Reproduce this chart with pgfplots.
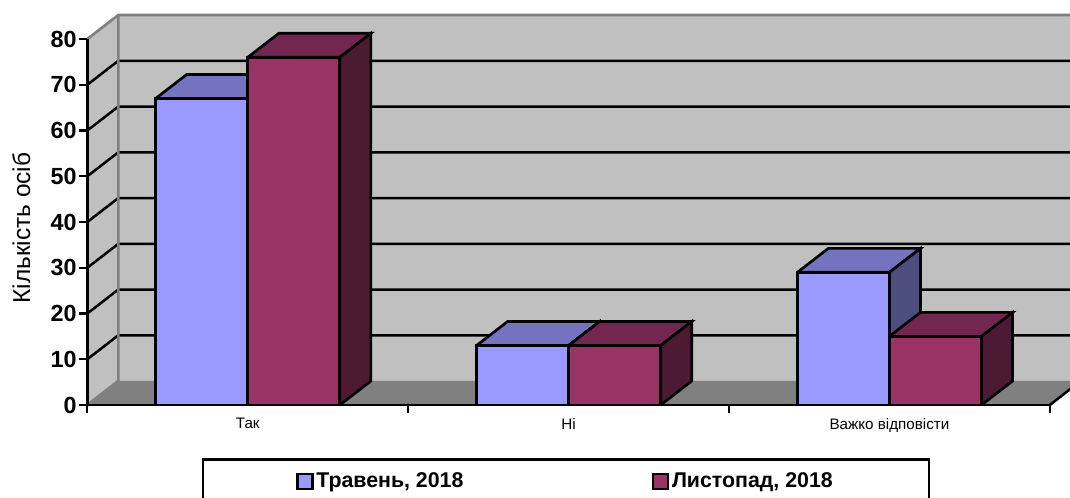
\documentclass[border=0pt]{standalone}
\usepackage{fontspec}
\setmainfont{Liberation Sans}
\usepackage{pgfplots}
\pgfplotsset{compat=1.18}
\definecolor{wall}{HTML}{C0C0C0}
\definecolor{edge}{HTML}{808080}
\definecolor{blueF}{HTML}{9999FF}
\definecolor{blueT}{HTML}{7373BF}
\definecolor{blueS}{HTML}{4D4D80}
\definecolor{redF}{HTML}{993366}
\definecolor{redT}{HTML}{732650}
\definecolor{redS}{HTML}{4D1A33}
% 1 px of the reference = 0.75pt; depth of the 3D box: 0.0967 in x, 5.24 in y
\begin{document}
\begin{tikzpicture}
\path[use as bounding box] (0,0) rectangle (802.5pt,373.5pt);
\begin{axis}[
  at={(65.5pt,69.75pt)}, anchor=south west,
  scale only axis, width=721.9pt, height=274.5pt,
  xmin=0, xmax=3, ymin=0, ymax=80,
  clip=false, axis on top,
  unbounded coords=jump,
  axis x line*=bottom, axis y line*=left,
  axis line style={-, line width=2pt, black},
  tick style={black, line width=1.7pt},
  major tick length=6pt, tick align=outside,
  xtick={0,1,2,3}, xticklabels={},
  extra x ticks={0.5,1.5,2.5},
  extra x tick labels={Так,Ні,Важко відповісти},
  extra x tick style={major tick length=0pt, tick label style={font=\fontsize{11.4}{14}\selectfont, yshift=-6.5pt}},
  ytick={0,10,...,80},
  /pgf/number format/assume math mode=true,
  y tick label style={font=\fontsize{17.5}{20}\selectfont\bfseries, xshift=1.5pt},
  ylabel={Кількість осіб},
  ylabel style={at={(rel axis cs:-0.0686,0.4836)}, anchor=center, font=\fontsize{18.3}{22}\selectfont},
  bar width=69pt,
  legend style={at={(rel axis cs:0.4972,-0.1455)}, anchor=north, draw=black, line width=1.9pt,
    legend columns=2, font=\fontsize{16}{19}\selectfont\bfseries,
    inner xsep=70pt, inner ysep=8pt,
    /tikz/every even column/.append style={column sep=139.5pt}},
]
% walls and floor
\addplot[forget plot, fill=wall, draw=none] coordinates {(0,0) (0.0967,5.3) (0.0967,85.24) (0,80) (0,0)};
\addplot[forget plot, fill=wall, draw=none] coordinates {(0.0967,5.3) (3.0967,5.3) (3.0967,85.24) (0.0967,85.24) (0.0967,5.3)};
\addplot[forget plot, fill=edge, draw=none] coordinates {(0,0) (3,0) (3.0967,5.3) (0.0967,5.3) (0,0)};
% gridlines
\addplot[forget plot, black, line width=1.9pt] coordinates {
  (0,10) (0.0967,15.24) (3.0967,15.24) (0,nan)
  (0,20) (0.0967,25.24) (3.0967,25.24) (0,nan)
  (0,30) (0.0967,35.24) (3.0967,35.24) (0,nan)
  (0,40) (0.0967,45.24) (3.0967,45.24) (0,nan)
  (0,50) (0.0967,55.24) (3.0967,55.24) (0,nan)
  (0,60) (0.0967,65.24) (3.0967,65.24) (0,nan)
  (0,70) (0.0967,75.24) (3.0967,75.24)};
\addplot[forget plot, edge, line width=2pt] coordinates {(0,80) (0.0967,85.24) (3.0967,85.24)};
\addplot[forget plot, edge, line width=2pt] coordinates {(0,0) (0.0967,5.3) (0.0967,85.24)};
\addplot[forget plot, black, line width=1.9pt] coordinates {(3,0) (3.0967,5.3)};
% May: tops and sides, then fronts
\addplot[forget plot, fill=blueT, draw=black, line width=2pt] coordinates {(0.213,67) (0.3097,72.24) (0.5967,72.24) (0.5,67) (0.213,67)};
\addplot[forget plot, fill=blueS, draw=black, line width=2pt] coordinates {(0.5,0) (0.5967,5.24) (0.5967,72.24) (0.5,67) (0.5,0)};
\addplot[forget plot, fill=blueT, draw=black, line width=2pt] coordinates {(1.213,13) (1.3097,18.24) (1.5967,18.24) (1.5,13) (1.213,13)};
\addplot[forget plot, fill=blueS, draw=black, line width=2pt] coordinates {(1.5,0) (1.5967,5.24) (1.5967,18.24) (1.5,13) (1.5,0)};
\addplot[forget plot, fill=blueT, draw=black, line width=2pt] coordinates {(2.213,29) (2.3097,34.24) (2.5967,34.24) (2.5,29) (2.213,29)};
\addplot[forget plot, fill=blueS, draw=black, line width=2pt] coordinates {(2.5,0) (2.5967,5.24) (2.5967,34.24) (2.5,29) (2.5,0)};
\addplot[ybar, bar shift=-34.5pt, fill=blueF, draw=black, line width=2pt,
  legend image code/.code={\draw[fill=blueF, draw=black, line width=1.7pt] (0pt,-5.6pt) rectangle (11.25pt,5.6pt);}]
  coordinates {(0.5,67) (1.5,13) (2.5,29)};
% November: tops and sides, then fronts
\addplot[forget plot, fill=redT, draw=black, line width=2pt] coordinates {(0.5,76) (0.5967,81.24) (0.8837,81.24) (0.787,76) (0.5,76)};
\addplot[forget plot, fill=redS, draw=black, line width=2pt] coordinates {(0.787,0) (0.8837,5.24) (0.8837,81.24) (0.787,76) (0.787,0)};
\addplot[forget plot, fill=redT, draw=black, line width=2pt] coordinates {(1.5,13) (1.5967,18.24) (1.8837,18.24) (1.787,13) (1.5,13)};
\addplot[forget plot, fill=redS, draw=black, line width=2pt] coordinates {(1.787,0) (1.8837,5.24) (1.8837,18.24) (1.787,13) (1.787,0)};
\addplot[forget plot, fill=redT, draw=black, line width=2pt] coordinates {(2.5,15) (2.5967,20.24) (2.8837,20.24) (2.787,15) (2.5,15)};
\addplot[forget plot, fill=redS, draw=black, line width=2pt] coordinates {(2.787,0) (2.8837,5.24) (2.8837,20.24) (2.787,15) (2.787,0)};
\addplot[ybar, bar shift=34.5pt, fill=redF, draw=black, line width=2pt,
  legend image code/.code={\draw[fill=redF, draw=black, line width=1.7pt] (0pt,-5.6pt) rectangle (11.25pt,5.6pt);}]
  coordinates {(0.5,76) (1.5,13) (2.5,15)};
\legend{{Травень, 2018}, {Листопад, 2018}}
\end{axis}
\end{tikzpicture}
\end{document}
